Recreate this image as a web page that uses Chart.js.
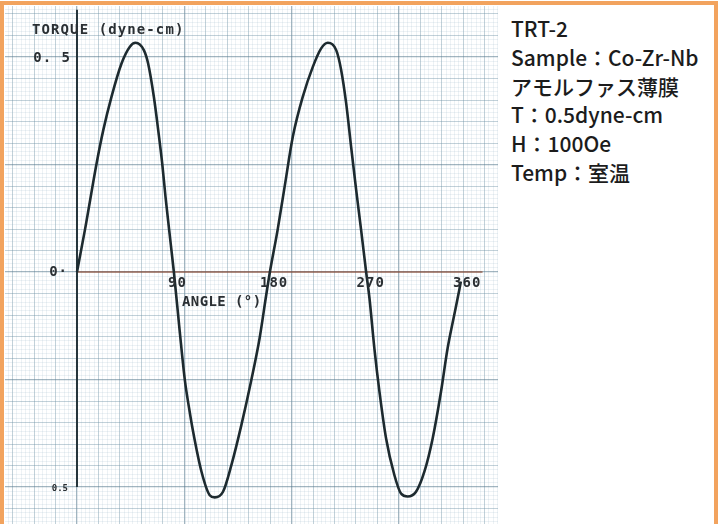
<!DOCTYPE html>
<html>
<head>
<meta charset="utf-8">
<script src="https://cdn.jsdelivr.net/npm/chart.js@4.4.1/dist/chart.umd.min.js"></script>
<style>
  html, body { margin: 0; padding: 0; background: #fff; }
  body { width: 723px; height: 524px; position: relative; overflow: hidden; }
  #frame {
    position: absolute; left: 0; top: 1px; width: 718px; height: 560px;
    box-sizing: border-box; border: 4px solid #f2a35e; border-bottom: none;
  }
  #paper { position: absolute; left: 5px; top: 6px; width: 493px; height: 518px; }
  #notes {
    position: absolute; left: 511px; top: 14px;
    font-family: "Noto Sans CJK JP", "Noto Sans", sans-serif;
    font-size: 21px; font-weight: 500; line-height: 28.8px; color: #1c1c1c; white-space: nowrap;
  }
</style>
</head>
<body>
<div id="frame"></div>
<div id="paper"><canvas id="chart" width="493" height="518"></canvas></div>
<div id="notes">
  <div>TRT-2</div>
  <div>Sample：Co-Zr-Nb</div>
  <div>アモルファス薄膜</div>
  <div>T：0.5dyne-cm</div>
  <div>H：100Oe</div>
  <div>Temp：室温</div>
</div>
<script>
// torque curve (angle in degrees, torque in dyne-cm)
const angleDeg = [0, 7.4, 18.3, 24.5, 32.2, 41.5, 49.3, 54.6, 62.3, 66.3, 71.6, 75.7, 79.4, 82.5, 85.9, 90.3,
    95.8, 100.5, 104.5, 108.2, 116, 123.7, 128.4, 136.1, 143.9, 153.2, 162.5, 170.2, 176.4, 179.8,
    187, 193.5, 201.2, 210.5, 219.8, 227.6, 233.8, 241.6, 246.2, 250.9, 255.5, 260.2, 264.8, 269.5,
    272.6, 277.2, 281.9, 288.1, 295.8, 302, 308.2, 316, 323.7, 331.5, 339.3, 345.4, 351.6, 356.3, 357.8];
const torque = [0, 0.098, 0.253, 0.330, 0.408, 0.485, 0.524, 0.533, 0.516, 0.485, 0.408, 0.330, 0.253, 0.175, 0.098, 0,
    -0.139, -0.251, -0.317, -0.371, -0.464, -0.519, -0.524, -0.511, -0.449, -0.356, -0.251, -0.154, -0.053, 0,
    0.098, 0.198, 0.315, 0.408, 0.477, 0.520, 0.533, 0.516, 0.470, 0.392, 0.291, 0.191, 0.098, 0,
    -0.061, -0.178, -0.278, -0.387, -0.472, -0.515, -0.522, -0.511, -0.465, -0.387, -0.278, -0.178, -0.100, -0.042, -0.022];

const angleTicks = [90, 180, 270, 360];
const angleTickLabels = ["90", "180", "270", "360"];
const torqueTickTop = 0.5;
const torqueTickBottom = -0.5;

const points = angleDeg.map((a, i) => ({ x: a, y: torque[i] }));

// graph paper: fine line every 4 deg / 0.01, medium every 20 deg / 0.05, heavy every 100 deg / 0.25
function paperTicks(min, max, step) {
    const out = [];
    for (let k = Math.ceil(min / step); k * step <= max; k++) out.push({ value: +(k * step).toFixed(4) });
    return out;
}
function onStep(v, step) {
    const r = Math.abs(v) / step;
    return Math.abs(r - Math.round(r)) < 1e-6;
}
function paperColor(v, medium, heavy) {
    if (onStep(v, heavy)) return "rgba(85,120,140,0.55)";
    if (onStep(v, medium)) return "rgba(110,145,165,0.42)";
    return "rgba(140,170,190,0.2)";
}
function paperWidth(v, medium, heavy) {
    if (onStep(v, heavy)) return 1.3;
    if (onStep(v, medium)) return 1;
    return 0.8;
}

const typeFont = "bold 14px 'DejaVu Sans Mono', monospace";

const recorderMarks = {
    id: "recorderMarks",
    beforeDatasetsDraw(chart) {
        const { ctx, scales: { x, y } } = chart;
        ctx.save();
        // zero line
        ctx.strokeStyle = "rgba(140,80,60,0.85)";
        ctx.lineWidth = 1.5;
        ctx.beginPath();
        ctx.moveTo(x.getPixelForValue(0), y.getPixelForValue(0));
        ctx.lineTo(x.getPixelForValue(378), y.getPixelForValue(0));
        ctx.stroke();
        // torque axis
        ctx.strokeStyle = "#25343a";
        ctx.lineWidth = 2;
        ctx.beginPath();
        ctx.moveTo(x.getPixelForValue(0), y.getPixelForValue(0.61));
        ctx.lineTo(x.getPixelForValue(0), y.getPixelForValue(-0.5));
        ctx.stroke();
        ctx.restore();
    },
    afterDraw(chart) {
        const { ctx, scales: { x, y } } = chart;
        ctx.save();
        ctx.fillStyle = "#2a2f33";
        ctx.textBaseline = "middle";
        ctx.font = typeFont;
        ctx.letterSpacing = "1.1px";
        ctx.textAlign = "left";
        ctx.fillText("TORQUE (dyne-cm)", 27, 24);
        ctx.letterSpacing = "0.4px";
        ctx.fillText("ANGLE (°)", 177, 296);
        ctx.letterSpacing = "1px";
        angleTicks.forEach((a, i) => {
            ctx.textAlign = "center";
            ctx.fillText(angleTickLabels[i], x.getPixelForValue(a) + 4, y.getPixelForValue(0) + 11);
        });
        ctx.textAlign = "right";
        ctx.letterSpacing = "1px";
        ctx.fillText("0. 5", x.getPixelForValue(0) - 6, y.getPixelForValue(torqueTickTop) + 1);
        ctx.fillText("0·", x.getPixelForValue(0) - 9, y.getPixelForValue(0));
        ctx.font = "bold 9px 'DejaVu Sans Mono', monospace";
        ctx.letterSpacing = "0px";
        ctx.fillText("0.5", x.getPixelForValue(0) - 9, y.getPixelForValue(torqueTickBottom) + 2);
        ctx.restore();
    }
};

const xMin = -67.1, xMax = 392.4;
const yMin = -0.586, yMax = 0.6186;

new Chart(document.getElementById("chart"), {
    type: "line",
    data: {
        datasets: [{
            data: points,
            borderColor: "#1d2a2f",
            borderWidth: 2.6,
            pointRadius: 0,
            fill: false,
            cubicInterpolationMode: "monotone"
        }]
    },
    options: {
        responsive: false,
        animation: false,
        devicePixelRatio: 1,
        layout: { padding: 0 },
        plugins: { legend: { display: false }, tooltip: { enabled: false } },
        scales: {
            x: {
                type: "linear", min: xMin, max: xMax,
                afterBuildTicks: axis => { axis.ticks = paperTicks(xMin, xMax, 4); },
                ticks: { display: false },
                border: { display: false },
                grid: {
                    drawTicks: false,
                    color: c => paperColor(c.tick.value, 20, 100),
                    lineWidth: c => paperWidth(c.tick.value, 20, 100)
                }
            },
            y: {
                type: "linear", min: yMin, max: yMax,
                afterBuildTicks: axis => { axis.ticks = paperTicks(yMin, yMax, 0.01); },
                ticks: { display: false },
                border: { display: false },
                grid: {
                    drawTicks: false,
                    color: c => paperColor(c.tick.value, 0.05, 0.25),
                    lineWidth: c => paperWidth(c.tick.value, 0.05, 0.25)
                }
            }
        }
    },
    plugins: [recorderMarks]
});
</script>
</body>
</html>
